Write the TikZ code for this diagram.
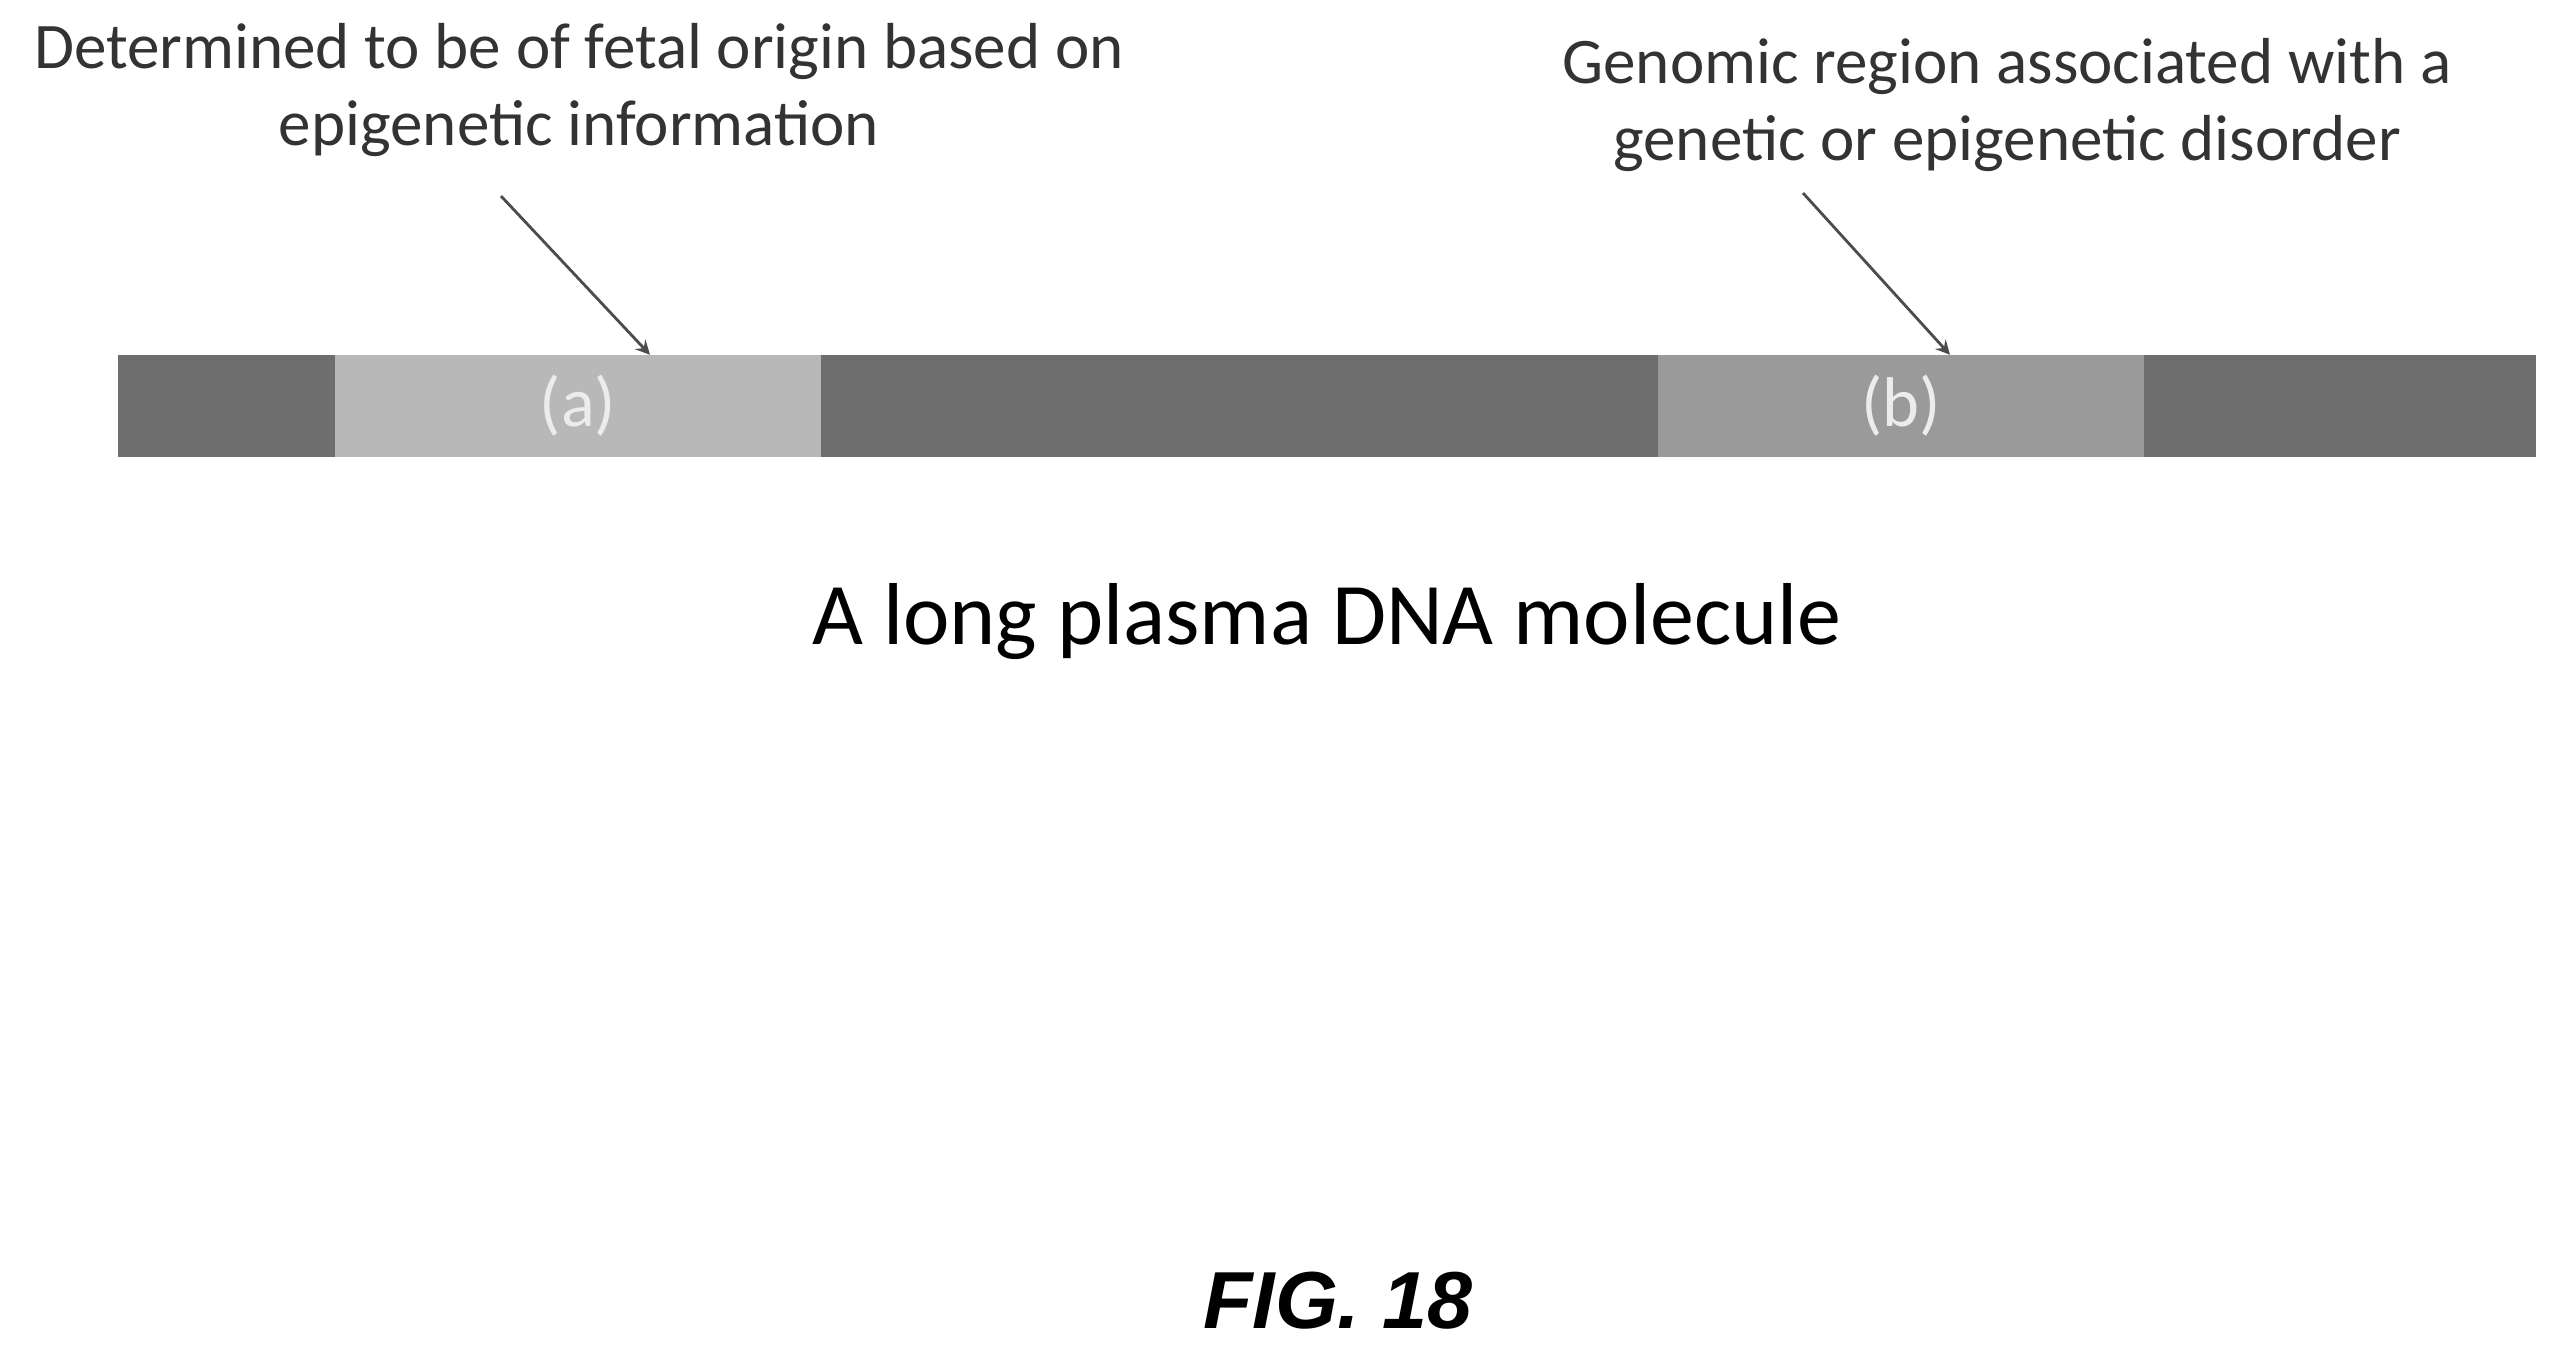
\documentclass[tikz,border=0pt]{standalone}
\usepackage{fontspec}
\setmainfont{Carlito}
\newfontfamily\figfont{Liberation Sans}
\usetikzlibrary{positioning}
\definecolor{bardark}{HTML}{6E6E6E}
\definecolor{barlight}{HTML}{B8B8B8}
\definecolor{barmid}{HTML}{9A9A9A}
\tikzset{%
  seg/.style = {draw=none,inner sep=0pt,minimum height=1.01cm,text=white!85!gray,font=\fontsize{20}{20}\selectfont},
  lbl/.style = {align=center,font=\fontsize{18.5}{22}\selectfont,text=black!80},
  ptr/.style = {-stealth,thick,black!70}
}
\begin{document}
\begin{tikzpicture}[x=0.01cm,y=-0.01cm]
  \useasboundingbox (0,0) rectangle (2559,1350);
  \node[seg,fill=bardark,minimum width=24.16cm] (bar) at (1327,406) {};
  \node[seg,fill=barlight,minimum width=4.86cm] (a) at (578,406) {(a)};
  \node[seg,fill=barmid,minimum width=4.86cm] (b) at (1901,406) {(b)};
  \node[lbl] (la) at (579,90) {Determined to be of fetal origin based on\\epigenetic information};
  \node[lbl] (lb) at (2007,105) {Genomic region associated with a\\genetic or epigenetic disorder};
  \coordinate (pa) at (501,196);
  \coordinate (pb) at (1803,193);
  \draw[ptr] (pa) -- (a.north west -| 650,331);
  \draw[ptr] (pb) -- (b.north west -| 1950,331);
  \node[font=\fontsize{25}{25}\selectfont] (title) at (1327,622) {A long plasma DNA molecule};
  \node[font=\figfont\bfseries\itshape\fontsize{23}{23}\selectfont] (fig) at (1338,1301) {FIG. 18};
\end{tikzpicture}
\end{document}
